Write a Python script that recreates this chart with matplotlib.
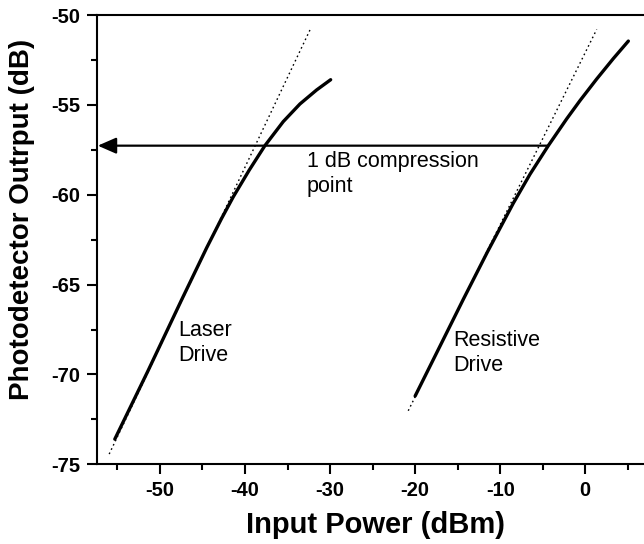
import matplotlib
matplotlib.use('Agg')
import matplotlib.pyplot as plt
import numpy as np

plt.rcParams['font.family'] = ['Liberation Sans', 'DejaVu Sans']
plt.rcParams['axes.unicode_minus'] = False

# measured curves (input power dBm, photodetector output dB)
laser_x = [-55.3, -51.4, -47.45, -44.5, -42.75, -41.38, -39.5, -37.66, -35.5, -33.54, -31.58, -29.93]
laser_y = [-73.6, -69.8, -65.85, -62.95, -61.32, -60.12, -58.63, -57.27, -55.93, -54.95, -54.17, -53.6]

resist_x = [-20.0, -17.0, -14.33, -11.5, -8.46, -6.5, -4.35, -2.19, -0.62, 1.34, 3.3, 5.06]
resist_y = [-71.2, -68.35, -65.81, -63.18, -60.47, -58.86, -57.27, -55.78, -54.76, -53.56, -52.42, -51.45]

# linear (small signal) fits, dotted
laser_fit_x = [-55.96, -32.36]
laser_fit_y = [-74.43, -50.83]
resist_fit_x = [-20.81, 1.34]
resist_fit_y = [-72.02, -50.8]

# 1 dB compression level
comp_level = -57.27
comp_x_start = -4.35

fig = plt.figure(figsize=(6.44, 5.44), dpi=100)
ax = fig.add_axes([0.150, 0.1465, 0.850, 0.8259])

ax.plot(laser_fit_x, laser_fit_y, color='black', lw=1.0, ls=(0, (1.2, 2.2)))
ax.plot(resist_fit_x, resist_fit_y, color='black', lw=1.0, ls=(0, (1.2, 2.2)))
ax.plot(laser_x, laser_y, color='black', lw=2.4, solid_capstyle='round', solid_joinstyle='round')
ax.plot(resist_x, resist_y, color='black', lw=2.4, solid_capstyle='round', solid_joinstyle='round')

ax.annotate('', xy=(-57.3, comp_level), xytext=(comp_x_start, comp_level),
            arrowprops=dict(arrowstyle='-|>,head_length=0.8,head_width=0.35', lw=1.6,
                            color='black', shrinkA=0, shrinkB=0, mutation_scale=14))

ax.text(-32.75, -57.55, '1 dB compression\npoint', fontsize=15.5, va='top', ha='left', linespacing=1.3)
ax.text(-47.85, -66.95, 'Laser\nDrive', fontsize=15.5, va='top', ha='left', linespacing=1.3)
ax.text(-15.52, -67.5, 'Resistive\nDrive', fontsize=15.5, va='top', ha='left', linespacing=1.3)

ax.set_xlim(-57.44, 6.9)
ax.set_ylim(-75, -50)
ax.set_xticks(np.arange(-50, 1, 10))
ax.set_xticks(np.arange(-55, 6, 5), minor=True)
ax.set_yticks(np.arange(-75, -49, 5))
ax.set_yticks(np.arange(-72.5, -50, 5), minor=True)

ax.spines['right'].set_visible(False)
for s in ['left', 'bottom', 'top']:
    ax.spines[s].set_linewidth(1.5)
ax.tick_params(which='major', direction='out', length=7, width=1.5, labelsize=14.5, pad=5)
ax.tick_params(which='minor', direction='out', length=4.3, width=1.5)
ax.tick_params(top=False, right=False, which='both')
for lab in ax.get_xticklabels() + ax.get_yticklabels():
    lab.set_fontweight('bold')

ax.set_xlabel('Input Power (dBm)', fontsize=21, fontweight='bold', va='center')
ax.set_ylabel('Photodetector Outrput (dB)', fontsize=20, fontweight='bold', va='center')
ax.xaxis.set_label_coords(0.51, -0.135)
ax.yaxis.set_label_coords(-0.1365, 0.544)

fig.savefig('out.png', dpi=100)
